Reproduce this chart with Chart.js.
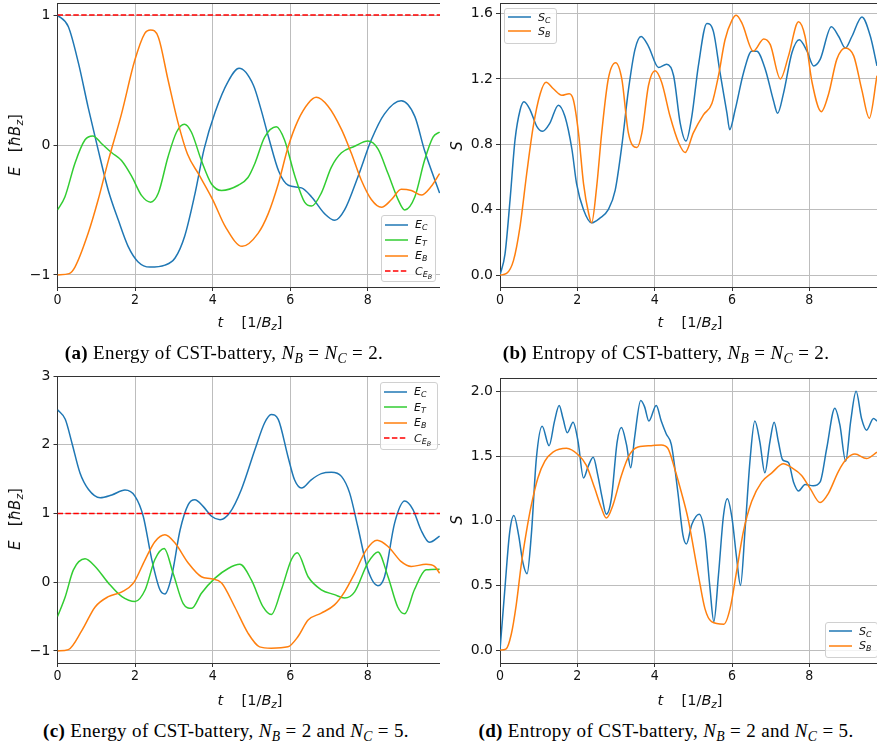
<!DOCTYPE html>
<html lang="en">
<head>
<meta charset="UTF-8">
<title>CST-battery energy and entropy</title>
<script src="https://cdn.jsdelivr.net/npm/chart.js@4.4.1/dist/chart.umd.min.js"></script>
<style>
  html, body { margin: 0; padding: 0; background: #fff; }
  body { width: 877px; height: 745px; position: relative; overflow: hidden; font-family: "DejaVu Sans", sans-serif; color: #111; }
  .box { position: absolute; }
  .ytitle { position: absolute; transform: translate(-50%, -50%) rotate(-90deg); white-space: nowrap; font-size: 15px; line-height: 1; }
  .xtitle { position: absolute; transform: translate(-50%, -50%); white-space: nowrap; font-size: 14.5px; line-height: 1; }
  .cap { position: absolute; transform: translate(-50%, -50%); white-space: nowrap; font-family: "Liberation Serif", serif; font-size: 19px; letter-spacing: 0.35px; line-height: 1; color: #000; }
  .legend { position: absolute; box-sizing: border-box; background: rgba(255, 255, 255, 0.8); border: 1px solid #d0d0d0; border-radius: 3px; padding: 1px 0 0 3px; font-size: 11px; }
  .legend .row { display: flex; align-items: center; }
  .legend svg { margin-right: 7px; flex: none; }
  sub { font-size: 72%; vertical-align: -0.3em; line-height: 0; }
  sub sub { font-size: 80%; }
</style>
</head>
<body>
  <div class="box" style="left:0;top:-11px;width:440px;height:328px"><canvas id="chartA"></canvas></div>
  <div class="box" style="left:440px;top:-11px;width:437px;height:328px"><canvas id="chartB"></canvas></div>
  <div class="box" style="left:0;top:362px;width:440px;height:331px"><canvas id="chartC"></canvas></div>
  <div class="box" style="left:440px;top:364px;width:437px;height:329px"><canvas id="chartD"></canvas></div>

  <div class="ytitle" style="left:15px;top:145px"><i>E</i>&nbsp;&nbsp;&nbsp;[<i>ħB</i><sub><i>z</i></sub>]</div>
  <div class="ytitle" style="left:457px;top:146px"><i>S</i></div>
  <div class="ytitle" style="left:15px;top:519px"><i>E</i>&nbsp;&nbsp;&nbsp;[<i>ħB</i><sub><i>z</i></sub>]</div>
  <div class="ytitle" style="left:457px;top:520px"><i>S</i></div>

  <div class="xtitle" style="left:250px;top:322px"><i>t</i>&nbsp;&nbsp;&nbsp;&nbsp;[1/<i>B</i><sub><i>z</i></sub>]</div>
  <div class="xtitle" style="left:690px;top:322px"><i>t</i>&nbsp;&nbsp;&nbsp;&nbsp;[1/<i>B</i><sub><i>z</i></sub>]</div>
  <div class="xtitle" style="left:250px;top:700px"><i>t</i>&nbsp;&nbsp;&nbsp;&nbsp;[1/<i>B</i><sub><i>z</i></sub>]</div>
  <div class="xtitle" style="left:690px;top:700px"><i>t</i>&nbsp;&nbsp;&nbsp;&nbsp;[1/<i>B</i><sub><i>z</i></sub>]</div>

  <div class="cap" style="left:224px;top:352px"><b>(a)</b> Energy of CST-battery, <i>N<sub>B</sub></i> = <i>N<sub>C</sub></i> = 2.</div>
  <div class="cap" style="left:666px;top:352px"><b>(b)</b> Entropy of CST-battery, <i>N<sub>B</sub></i> = <i>N<sub>C</sub></i> = 2.</div>
  <div class="cap" style="left:226px;top:730px"><b>(c)</b> Energy of CST-battery, <i>N<sub>B</sub></i> = 2 and <i>N<sub>C</sub></i> = 5.</div>
  <div class="cap" style="left:666px;top:730px"><b>(d)</b> Entropy of CST-battery, <i>N<sub>B</sub></i> = 2 and <i>N<sub>C</sub></i> = 5.</div>

  <div class="legend" id="legA" style="left:381px;top:215px;width:55px;height:67px"></div>
  <div class="legend" id="legB" style="left:504px;top:8px;width:53px;height:36px"></div>
  <div class="legend" id="legC" style="left:380px;top:382px;width:58px;height:68px"></div>
  <div class="legend" id="legD" style="left:825px;top:622px;width:53px;height:36px"></div>

<script>
// shared x ticks
const tTicks = [0, 2, 4, 6, 8];

// (a) energy, NB = NC = 2
const eTicksA = [-1, 0, 1];
const tEcA = [0, 0.28, 0.54, 0.79, 1.05, 1.31, 1.57, 1.82, 2.08, 2.38, 2.77, 3.03, 3.28, 3.54, 3.78, 4.06, 4.4, 4.68, 5.05, 5.24, 5.45, 5.7, 5.95, 6.29, 6.55, 6.89, 7.15, 7.4, 7.75, 8.09, 8.43, 8.86, 9.21, 9.46, 9.85];
const ecA = [1, 0.91, 0.63, 0.29, -0.04, -0.35, -0.58, -0.78, -0.9, -0.94, -0.925, -0.87, -0.7, -0.38, -0.03, 0.25, 0.49, 0.59, 0.46, 0.28, 0.05, -0.2, -0.31, -0.33, -0.4, -0.53, -0.58, -0.5, -0.24, 0.04, 0.24, 0.34, 0.22, -0.04, -0.37];
const tEtA = [0, 0.19, 0.45, 0.71, 0.91, 1.14, 1.4, 1.65, 1.91, 2.17, 2.4, 2.6, 2.85, 3.07, 3.27, 3.45, 3.71, 3.97, 4.23, 4.66, 4.91, 5.09, 5.34, 5.64, 5.85, 6.12, 6.37, 6.55, 6.8, 7.06, 7.32, 7.66, 8.0, 8.26, 8.52, 8.78, 8.95, 9.21, 9.46, 9.68, 9.85];
const etA = [-0.5, -0.4, -0.14, 0.04, 0.07, 0.01, -0.06, -0.12, -0.24, -0.39, -0.44, -0.37, -0.09, 0.1, 0.16, 0.1, -0.12, -0.3, -0.35, -0.31, -0.25, -0.14, 0.06, 0.14, 0.04, -0.24, -0.44, -0.47, -0.37, -0.17, -0.06, -0.01, 0.03, -0.03, -0.22, -0.42, -0.5, -0.4, -0.12, 0.06, 0.1];
const tEbA = [0, 0.3, 0.45, 0.79, 1.05, 1.31, 1.65, 1.99, 2.25, 2.4, 2.6, 2.85, 3.1, 3.35, 3.65, 4.0, 4.33, 4.76, 5.17, 5.43, 5.69, 5.95, 6.2, 6.46, 6.67, 6.97, 7.32, 7.57, 7.83, 8.09, 8.35, 8.61, 8.86, 9.12, 9.38, 9.63, 9.85];
const ebA = [-1, -0.99, -0.94, -0.68, -0.42, -0.12, 0.24, 0.65, 0.86, 0.886, 0.83, 0.5, 0.18, -0.07, -0.23, -0.42, -0.63, -0.78, -0.68, -0.53, -0.3, -0.01, 0.19, 0.32, 0.367, 0.3, 0.12, -0.06, -0.27, -0.42, -0.48, -0.42, -0.34, -0.35, -0.385, -0.32, -0.22];
const capA = 1;

// (b) entropy, NB = NC = 2
const sTicksB = [0, 0.4, 0.8, 1.2, 1.6];
const tScB = [0, 0.13, 0.26, 0.39, 0.52, 0.62, 0.78, 0.95, 1.1, 1.29, 1.51, 1.68, 1.86, 1.98, 2.16, 2.37, 2.59, 2.8, 2.98, 3.15, 3.32, 3.49, 3.65, 3.84, 4.1, 4.31, 4.49, 4.66, 4.81, 4.96, 5.13, 5.35, 5.52, 5.69, 5.87, 5.94, 6.08, 6.3, 6.51, 6.64, 6.86, 7.07, 7.18, 7.33, 7.55, 7.74, 7.94, 8.11, 8.28, 8.57, 8.76, 8.93, 9.1, 9.36, 9.58, 9.75];
const scB = [0, 0.13, 0.46, 0.83, 1.01, 1.06, 1.01, 0.91, 0.88, 0.93, 1.04, 0.97, 0.77, 0.56, 0.4, 0.32, 0.35, 0.4, 0.52, 0.79, 1.13, 1.38, 1.46, 1.4, 1.27, 1.29, 1.22, 0.93, 0.82, 0.97, 1.28, 1.54, 1.49, 1.24, 0.99, 0.89, 1.01, 1.24, 1.37, 1.37, 1.26, 1.07, 0.99, 1.11, 1.36, 1.44, 1.37, 1.28, 1.32, 1.52, 1.46, 1.39, 1.46, 1.58, 1.46, 1.28];
const tSbB = [0, 0.17, 0.35, 0.52, 0.69, 0.86, 1.04, 1.19, 1.38, 1.6, 1.79, 1.9, 2.03, 2.16, 2.29, 2.37, 2.5, 2.63, 2.8, 2.99, 3.15, 3.32, 3.54, 3.67, 3.84, 4.01, 4.18, 4.4, 4.62, 4.79, 5.0, 5.26, 5.48, 5.65, 5.82, 6.0, 6.11, 6.26, 6.55, 6.82, 6.99, 7.25, 7.46, 7.72, 7.89, 8.07, 8.31, 8.5, 8.71, 8.93, 9.15, 9.36, 9.55, 9.75];
const sbB = [0, 0.01, 0.09, 0.3, 0.62, 0.91, 1.11, 1.18, 1.14, 1.1, 1.11, 1.07, 0.87, 0.56, 0.38, 0.32, 0.54, 0.87, 1.2, 1.3, 1.2, 0.87, 0.78, 0.87, 1.16, 1.25, 1.18, 0.97, 0.81, 0.75, 0.87, 0.98, 1.05, 1.22, 1.44, 1.56, 1.59, 1.54, 1.37, 1.445, 1.41, 1.2, 1.34, 1.55, 1.46, 1.18, 1.0, 1.11, 1.32, 1.39, 1.34, 1.13, 0.96, 1.22];

// (c) energy, NB = 2, NC = 5
const eTicksC = [-1, 0, 1, 2, 3];
const tEcC = [0, 0.2, 0.37, 0.58, 0.8, 1.1, 1.4, 1.74, 2.0, 2.21, 2.43, 2.64, 2.77, 2.94, 3.16, 3.37, 3.54, 3.76, 3.97, 4.19, 4.44, 4.74, 5.09, 5.34, 5.51, 5.69, 5.94, 6.11, 6.29, 6.54, 6.8, 7.06, 7.32, 7.53, 7.74, 8.0, 8.26, 8.43, 8.69, 8.95, 9.16, 9.37, 9.59, 9.85];
const ecC = [2.51, 2.37, 2.03, 1.59, 1.35, 1.23, 1.27, 1.34, 1.25, 0.96, 0.33, -0.11, -0.17, 0.08, 0.76, 1.13, 1.2, 1.1, 0.96, 0.91, 1.01, 1.35, 1.93, 2.32, 2.44, 2.37, 1.83, 1.49, 1.37, 1.49, 1.58, 1.6, 1.54, 1.3, 0.81, 0.18, -0.05, 0.08, 0.86, 1.18, 1.06, 0.76, 0.58, 0.67];
const tEtC = [0, 0.2, 0.41, 0.71, 0.97, 1.31, 1.66, 2.0, 2.26, 2.51, 2.75, 2.98, 3.24, 3.46, 3.71, 4.06, 4.4, 4.7, 5.0, 5.3, 5.51, 5.77, 6.03, 6.18, 6.46, 6.8, 7.14, 7.4, 7.66, 8.0, 8.26, 8.52, 8.77, 8.95, 9.2, 9.5, 9.85];
const etC = [-0.5, -0.21, 0.18, 0.34, 0.23, -0.01, -0.21, -0.28, -0.11, 0.33, 0.49, 0.13, -0.31, -0.38, -0.16, 0.06, 0.2, 0.26, 0.03, -0.36, -0.47, -0.11, 0.33, 0.43, 0.08, -0.11, -0.18, -0.23, -0.14, 0.28, 0.44, 0.08, -0.36, -0.46, -0.11, 0.18, 0.19];
const tEbC = [0, 0.28, 0.63, 0.97, 1.31, 1.66, 1.96, 2.26, 2.51, 2.77, 3.03, 3.37, 3.71, 3.97, 4.23, 4.57, 4.91, 5.21, 5.51, 5.94, 6.2, 6.46, 6.8, 7.14, 7.4, 7.66, 7.96, 8.24, 8.52, 8.86, 9.12, 9.5, 9.72, 9.85];
const ebC = [-1, -0.98, -0.7, -0.36, -0.21, -0.14, -0.01, 0.33, 0.59, 0.69, 0.57, 0.28, 0.08, 0.05, -0.01, -0.36, -0.74, -0.94, -0.96, -0.94, -0.79, -0.55, -0.45, -0.33, -0.14, 0.13, 0.47, 0.61, 0.52, 0.3, 0.23, 0.26, 0.23, 0.13];
const capC = 1;

// (d) entropy, NB = 2, NC = 5
const sTicksD = [0, 0.5, 1, 1.5, 2];
const tScD = [0, 0.12, 0.25, 0.36, 0.48, 0.59, 0.7, 0.81, 0.94, 1.09, 1.27, 1.41, 1.53, 1.63, 1.74, 1.89, 2.02, 2.16, 2.28, 2.41, 2.53, 2.64, 2.75, 2.88, 3.03, 3.14, 3.27, 3.38, 3.48, 3.64, 3.74, 3.85, 4.04, 4.17, 4.3, 4.43, 4.6, 4.73, 4.82, 4.96, 5.15, 5.3, 5.43, 5.53, 5.65, 5.78, 5.88, 6.0, 6.12, 6.22, 6.34, 6.47, 6.59, 6.72, 6.85, 6.98, 7.09, 7.2, 7.31, 7.46, 7.59, 7.72, 7.89, 8.1, 8.28, 8.45, 8.66, 8.79, 8.94, 9.07, 9.21, 9.35, 9.48, 9.66, 9.75];
const scD = [0, 0.45, 0.91, 1.04, 0.89, 0.68, 0.59, 0.89, 1.48, 1.73, 1.58, 1.77, 1.89, 1.79, 1.68, 1.76, 1.61, 1.33, 1.42, 1.49, 1.35, 1.18, 1.05, 1.17, 1.61, 1.72, 1.59, 1.41, 1.64, 1.93, 1.88, 1.77, 1.89, 1.77, 1.67, 1.59, 1.22, 0.89, 0.82, 0.97, 1.05, 0.89, 0.48, 0.22, 0.58, 1.04, 1.17, 1.02, 0.71, 0.5, 0.94, 1.48, 1.77, 1.61, 1.37, 1.61, 1.76, 1.61, 1.47, 1.45, 1.3, 1.23, 1.28, 1.27, 1.3, 1.56, 1.87, 1.74, 1.46, 1.77, 2.0, 1.79, 1.7, 1.79, 1.77];
const tSbD = [0, 0.16, 0.29, 0.42, 0.55, 0.68, 0.81, 0.98, 1.16, 1.37, 1.72, 2.02, 2.23, 2.45, 2.62, 2.75, 2.92, 3.14, 3.35, 3.57, 3.91, 4.17, 4.34, 4.52, 4.69, 4.86, 5.13, 5.3, 5.47, 5.79, 5.95, 6.12, 6.29, 6.51, 6.77, 7.03, 7.33, 7.54, 7.8, 8.02, 8.28, 8.49, 8.75, 8.97, 9.18, 9.48, 9.75];
const sbD = [0, 0.01, 0.12, 0.35, 0.66, 0.91, 1.12, 1.33, 1.46, 1.53, 1.56, 1.51, 1.43, 1.25, 1.1, 1.02, 1.12, 1.35, 1.51, 1.57, 1.58, 1.585, 1.56, 1.4, 1.22, 1.02, 0.58, 0.32, 0.22, 0.2, 0.32, 0.61, 0.91, 1.15, 1.3, 1.37, 1.44, 1.41, 1.35, 1.25, 1.14, 1.21, 1.38, 1.48, 1.515, 1.48, 1.53];

const blue = '#1f77b4', green = '#32cd32', orange = '#ff7f0e', red = '#ff0000';

function pts(ts, vs) {
  return ts.map((t, i) => ({ x: t, y: vs[i] }));
}

function signed(v) {
  return v < 0 ? '\u2212' + Math.abs(v) : String(v);
}

function line(label, html, ts, vs, color, order) {
  return { label: label, legendHtml: html, data: pts(ts, vs), borderColor: color, order: order };
}

function capLine(html, value, xMax) {
  return { label: 'C_EB', legendHtml: html, data: pts([0, xMax], [value, value]), borderColor: red, borderDash: [5.5, 2.4], order: 0 };
}

const tickFont = { family: "'DejaVu Sans', sans-serif", size: 14 };
const xTickFont = { family: "'DejaVu Sans Condensed', 'DejaVu Sans', sans-serif", size: 14 };

function panel(id, cfg) {
  return new Chart(document.getElementById(id), {
    type: 'line',
    data: { datasets: cfg.datasets },
    options: {
      responsive: true,
      maintainAspectRatio: false,
      animation: false,
      events: [],
      layout: { padding: { top: 14, left: 0, right: 0, bottom: 0 } },
      plugins: { legend: { display: false }, tooltip: { enabled: false } },
      elements: {
        point: { radius: 0 },
        line: { borderWidth: 1.5, cubicInterpolationMode: 'monotone', fill: false }
      },
      scales: {
        x: {
          type: 'linear', min: 0, max: cfg.xMax,
          afterFit: s => { s.height = 30; },
          afterBuildTicks: s => { s.ticks = tTicks.map(v => ({ value: v })); },
          grid: { color: '#bdbdbd', lineWidth: 1, tickColor: '#333', tickLength: 4 },
          border: { display: true, color: '#333', width: 1 },
          ticks: { padding: 1, color: '#111', font: xTickFont, maxRotation: 0 }
        },
        xTop: {
          type: 'linear', position: 'top', min: 0, max: cfg.xMax,
          afterFit: s => { s.height = 0; },
          ticks: { display: false },
          grid: { display: false },
          border: { display: true, color: '#333', width: 1 }
        },
        y: {
          type: 'linear', min: cfg.yMin, max: cfg.yMax,
          afterFit: s => { s.width = cfg.yWidth; },
          afterBuildTicks: s => { s.ticks = cfg.yTicks.map(v => ({ value: v })); },
          grid: { color: '#bdbdbd', lineWidth: 1, tickColor: '#333', tickLength: 4 },
          border: { display: true, color: '#333', width: 1 },
          ticks: { padding: 3, color: '#111', font: tickFont, callback: cfg.fmt }
        }
      }
    }
  });
}

// html legend built from the chart's own datasets (labels need subscripts)
function htmlLegend(chart, boxId, rowH) {
  const box = document.getElementById(boxId);
  chart.data.datasets.forEach(ds => {
    const row = document.createElement('div');
    row.className = 'row';
    row.style.height = rowH + 'px';
    const dash = ds.borderDash ? ` stroke-dasharray="${ds.borderDash.join(' ')}"` : '';
    row.innerHTML = `<svg width="23" height="6"><line x1="0" y1="3" x2="23" y2="3" stroke="${ds.borderColor}" stroke-width="1.5"${dash}/></svg>` +
      `<span>${ds.legendHtml}</span>`;
    box.appendChild(row);
  });
}

const chartA = panel('chartA', {
  xMax: 9.86, yMin: -1.093, yMax: 1.093, yWidth: 57.5, yTicks: eTicksA, fmt: signed,
  datasets: [
    line('E_C', '<i>E<sub>C</sub></i>', tEcA, ecA, blue, 3),
    line('E_T', '<i>E<sub>T</sub></i>', tEtA, etA, green, 2),
    line('E_B', '<i>E<sub>B</sub></i>', tEbA, ebA, orange, 1),
    capLine('<i>C<sub>E<sub>B</sub></sub></i>', capA, 9.86)
  ]
});

const chartB = panel('chartB', {
  xMax: 9.75, yMin: -0.073, yMax: 1.665, yWidth: 60, yTicks: sTicksB, fmt: v => v.toFixed(1),
  datasets: [
    line('S_C', '<i>S<sub>C</sub></i>', tScB, scB, blue, 2),
    line('S_B', '<i>S<sub>B</sub></i>', tSbB, sbB, orange, 1)
  ]
});

const chartC = panel('chartC', {
  xMax: 9.86, yMin: -1.175, yMax: 3, yWidth: 57.5, yTicks: eTicksC, fmt: signed,
  datasets: [
    line('E_C', '<i>E<sub>C</sub></i>', tEcC, ecC, blue, 3),
    line('E_T', '<i>E<sub>T</sub></i>', tEtC, etC, green, 2),
    line('E_B', '<i>E<sub>B</sub></i>', tEbC, ebC, orange, 1),
    capLine('<i>C<sub>E<sub>B</sub></sub></i>', capC, 9.86)
  ]
});

const chartD = panel('chartD', {
  xMax: 9.75, yMin: -0.1, yMax: 2.103, yWidth: 60, yTicks: sTicksD, fmt: v => v.toFixed(1),
  datasets: [
    line('S_C', '<i>S<sub>C</sub></i>', tScD, scD, blue, 2),
    line('S_B', '<i>S<sub>B</sub></i>', tSbD, sbD, orange, 1)
  ]
});

htmlLegend(chartA, 'legA', 15.5);
htmlLegend(chartB, 'legB', 14);
htmlLegend(chartC, 'legC', 15.5);
htmlLegend(chartD, 'legD', 14.5);
</script>
</body>
</html>
